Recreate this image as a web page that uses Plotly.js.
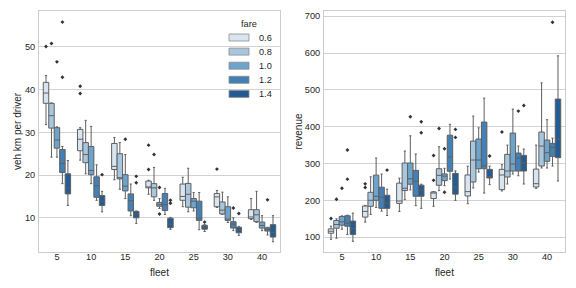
<!DOCTYPE html>
<html><head><meta charset="utf-8">
<script src="https://cdn.plot.ly/plotly-3.0.1.min.js"></script>
<style>html,body{margin:0;padding:0;background:#fff}#chart{width:576px;height:288px}</style>
</head><body><div id="chart"></div>
<script>
// categories
const fleets = ['5','10','15','20','25','30','40'];
const fares = ['0.6','0.8','1.0','1.2','1.4'];
const fareColors = ['#d8e5f0','#a8c6de','#6ea4cc','#4280b6','#235c95'];

// veh km per driver: rows = fare, columns = fleet
const vkmQ1 = [
  [36.8,25.7,21.3,17.0,14.1,12.6,9.8],
  [31.0,22.9,19.1,14.9,12.5,10.9,9.1],
  [26.3,20.1,16.3,12.7,12.35,9.4,7.6],
  [20.6,14.8,11.6,11.7,9.4,7.6,6.9],
  [15.6,12.9,10.0,7.7,7.35,6.5,5.5]];
const vkmMedian = [
  [39.2,28.4,22.05,17.1,15.0,14.9,10.2],
  [33.9,24.8,19.4,17.0,15.5,11.8,10.7],
  [28.2,21.1,17.4,13.1,13.9,9.7,8.2],
  [22.7,17.5,14.0,13.1,9.9,8.5,7.25],
  [17.0,13.9,10.9,8.5,7.9,7.2,6.6]];
const vkmQ3 = [
  [41.7,30.7,27.4,18.6,17.9,15.7,11.9],
  [36.8,27.6,25.0,18.0,18.05,13.7,11.9],
  [31.1,26.7,20.1,13.6,14.5,12.6,9.0],
  [26.0,19.6,15.6,15.7,13.9,9.1,7.65],
  [20.3,15.2,11.5,9.9,8.25,7.8,8.4]];
const vkmLow = [
  [31.8,23.5,18.9,15.5,12.6,12.4,9.6],
  [24.2,20.3,16.7,14.1,11.4,10.8,8.9],
  [24.2,18.0,14.5,12.2,11.6,8.9,7.0],
  [18.0,14.1,10.5,10.8,7.2,7.0,6.0],
  [12.9,11.4,8.7,7.3,6.8,5.9,4.4]];
const vkmHigh = [
  [43.3,31.1,28.8,18.8,19.5,16.4,14.5],
  [36.9,32.8,27.6,21.8,21.6,16.0,16.2],
  [31.3,31.4,24.8,14.5,15.9,14.9,10.5],
  [26.7,22.4,17.9,16.9,15.9,10.0,7.8],
  [23.4,16.2,11.6,10.1,8.4,8.0,10.5]];
const vkmOutliers = [
  [[50.1],[40.8,39.1],[],[27.0,21.3],[],[21.4],[]],
  [[50.8],[],[],[24.8],[],[],[]],
  [[46.5],[],[28.4],[17.1,10.9],[],[],[]],
  [[55.8,42.9],[],[],[],[],[12.3],[14.2]],
  [[],[20.1],[19.7,18.2],[14.1,13.4],[9.0],[11.0],[]]];

// revenue
const revQ1 = [
  [110.9,154.7,192,205,212,229.2,236.4],
  [124.6,183.9,226.7,241,250,263.5,293.3],
  [132.8,200.3,244,253.6,286,279.8,306],
  [130,178.4,211.2,279,286,279.8,319.5],
  [107.3,178.4,211.2,217,260.8,279.8,316]];
const revMedian = [
  [116.4,170.2,198.5,220,223.8,269,245.4],
  [134.6,200.3,233,268,309.6,279.8,347.5],
  [141.9,211.2,258.6,266,309.6,298.7,329.4],
  [138.3,208.5,252.2,317.5,294,315,343.9],
  [123.7,193,227.6,235.5,264.4,301.4,366.5]];
const revQ3 = [
  [122.8,184.8,246.8,223,269,284.3,285],
  [145.6,222,301.5,286,361,325,385.5],
  [156.5,268.6,301.5,272,366.5,382.7,363.8],
  [158.3,235.8,281.4,377,412.6,328.5,354.7],
  [143.8,214,241.3,273.4,284.3,322.2,475]];
const revLow = [
  [94.5,141,170,184,191,225.6,232.8],
  [97.3,162,202,226.5,233.7,244.5,288],
  [121.9,181,228.5,240,277,271.6,288],
  [107.3,171,185.7,258,220,267,293.3],
  [89,159,178.4,200,242.7,244.5,252.7]];
const revHigh = [
  [130,186.6,260.4,224,293,297,350],
  [150,264,334,345.7,428.8,350,519],
  [158,315,375.3,287,397,447.8,419],
  [160,271.4,326,406.5,477.6,347.5,369],
  [165.6,230.4,244,280,293,339.4,592.3]];
const revOutliers = [
  [[151],[245,235],[],[322,254.5],[],[385.5],[]],
  [[203],[],[],[395],[],[],[]],
  [[233],[],[427],[340,222],[],[],[]],
  [[257.7,337],[],[],[],[],[442.4],[683.6]],
  [[],[282.3],[413.6,383.5],[392.7,371],[320.4],[457.7],[]]];

const BOXW = 0.16;
const LINE = '#5f5f5f';
const TXT = '#262626';
const FONT = 'Liberation Sans, Arial, sans-serif';

function pos(g, h){ return g + (h - (fares.length-1)/2) * BOXW; }

const traces = [];
function addPanel(q1, med, q3, lo, hi, outl, xa, ya){
  fares.forEach((f, h) => {
    traces.push({
      type:'box', name:f, x: fleets.map((_, g) => pos(g, h)),
      q1:q1[h], median:med[h], q3:q3[h], lowerfence:lo[h], upperfence:hi[h],
      width:BOXW, whiskerwidth:0.4, boxpoints:false,
      fillcolor:fareColors[h], line:{color:LINE, width:1},
      xaxis:xa, yaxis:ya, showlegend:false, hoverinfo:'skip'
    });
    const ox = [], oy = [];
    outl[h].forEach((vals, g) => vals.forEach(v => { ox.push(pos(g, h)); oy.push(v); }));
    traces.push({
      type:'scatter', mode:'markers', x:ox, y:oy, xaxis:xa, yaxis:ya,
      marker:{symbol:'diamond', size:3, color:'#333333'},
      showlegend:false, hoverinfo:'skip'
    });
  });
}
addPanel(vkmQ1, vkmMedian, vkmQ3, vkmLow, vkmHigh, vkmOutliers, 'x', 'y');
addPanel(revQ1, revMedian, revQ3, revLow, revHigh, revOutliers, 'x2', 'y2');

const xbase = {
  range:[-0.525, 6.525], tickvals: fleets.map((_, i) => i), ticktext: fleets,
  showgrid:false, zeroline:false, showline:true, mirror:true, linecolor:'#cccccc', linewidth:1,
  ticks:'', ticklabelstandoff:-4,
  tickfont:{size:9.2, color:TXT}, title:{text:'fleet', font:{size:10, color:TXT}, standoff:7},
  automargin:false, fixedrange:true
};
const ybase = {
  showgrid:true, gridcolor:'#d2d2d2', gridwidth:1, zeroline:false,
  showline:true, mirror:true, linecolor:'#cccccc', linewidth:1,
  ticks:'outside', ticklen:1, tickcolor:'rgba(0,0,0,0)',
  tickfont:{size:9.2, color:TXT}, automargin:false, fixedrange:true
};

// custom legend built from fares / colors
const shapes = [], annotations = [];
const legX0 = 229/576, legX1 = 249/576, rowTop = 37.5, rowStep = 14.1;
fares.forEach((f, h) => {
  const yc = rowTop + h*rowStep;
  shapes.push({type:'rect', xref:'paper', yref:'paper', x0:legX0, x1:legX1,
    y0:1-(yc+3.5)/288, y1:1-(yc-3.5)/288, fillcolor:fareColors[h], line:{color:'#8c8c8c', width:0.8}});
  annotations.push({xref:'paper', yref:'paper', x:257/576, y:1-yc/288, xanchor:'left', yanchor:'middle',
    text:f, showarrow:false, font:{size:9.2, color:TXT}});
});
annotations.push({xref:'paper', yref:'paper', x:249/576, y:1-24/288, xanchor:'center', yanchor:'middle',
  text:'fare', showarrow:false, font:{size:9.2, color:TXT}});

const layout = {
  width:576, height:288, margin:{l:0, r:0, t:0, b:0},
  paper_bgcolor:'#ffffff', plot_bgcolor:'#ffffff', font:{family:FONT, color:TXT},
  showlegend:false, boxmode:'overlay',
  xaxis: Object.assign({}, xbase, {domain:[39/576, 280/576], anchor:'y'}),
  yaxis: Object.assign({}, ybase, {domain:[1-252/288, 1-11/288], range:[2.0, 58.4], tickvals:[10,20,30,40,50],
    anchor:'x', title:{text:'veh km per driver', font:{size:10, color:TXT}, standoff:1}}),
  xaxis2: Object.assign({}, xbase, {domain:[324/576, 565/576], anchor:'y2'}),
  yaxis2: Object.assign({}, ybase, {domain:[1-252/288, 1-11/288], range:[60, 714], tickvals:[100,200,300,400,500,600,700],
    anchor:'x2', title:{text:'revenue', font:{size:10, color:TXT}, standoff:0}}),
  shapes: shapes, annotations: annotations
};

Plotly.newPlot('chart', traces, layout, {staticPlot:true, displayModeBar:false});
</script>
</body></html>
